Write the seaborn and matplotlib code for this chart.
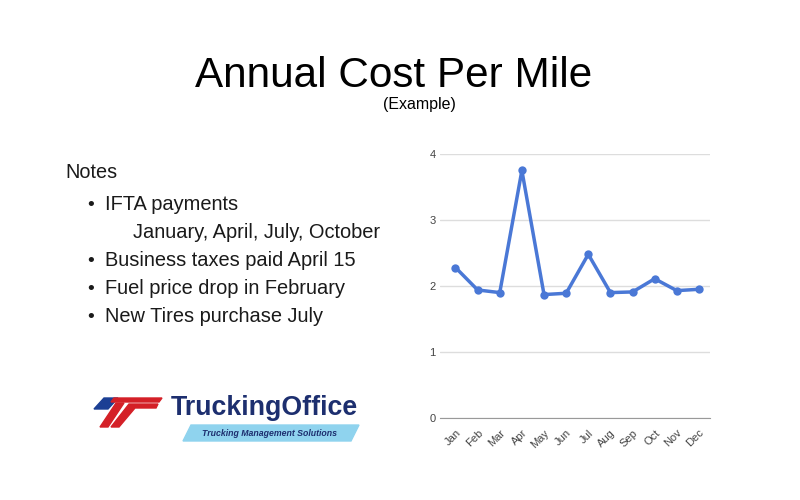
import matplotlib
matplotlib.use('Agg')
import matplotlib.pyplot as plt
import seaborn as sb
import pandas as pd
from matplotlib.patches import Polygon

months = ['Jan', 'Feb', 'Mar', 'Apr', 'May', 'Jun', 'Jul', 'Aug', 'Sep', 'Oct', 'Nov', 'Dec']
cost_per_mile = [2.28, 1.94, 1.90, 3.75, 1.87, 1.89, 2.48, 1.90, 1.91, 2.11, 1.93, 1.95]
y_ticks = [0, 1, 2, 3, 4]

notes_heading = 'Notes'
notes = ['IFTA payments', 'Business taxes paid April 15', 'Fuel price drop in February', 'New Tires purchase July']
ifta_months = 'January, April, July, October'

df = pd.DataFrame({'month': months, 'cost': cost_per_mile})

sb.set_style('white')
plt.rcParams['font.family'] = ['Liberation Sans', 'DejaVu Sans']

fig = plt.figure(figsize=(8, 5), dpi=100)
fig.patch.set_facecolor('white')

# background axes in pixel coordinates for the text and logo
bg = fig.add_axes([0, 0, 1, 1])
bg.set_xlim(0, 800)
bg.set_ylim(500, 0)
bg.axis('off')

bg.text(394, 76, 'Annual Cost Per Mile', ha='center', va='center', fontsize=30.4, color='black')
bg.text(419, 104, '(Example)', ha='center', va='center', fontsize=11.5, color='black')

bg.text(65, 172, notes_heading, ha='left', va='center', fontsize=14.3, color='#1a1a1a')
rows = [204, 260, 288, 316]
for y, line in zip(rows, notes):
    bg.text(91, y + 1, '\u2022', ha='center', va='center', fontsize=14, color='#1a1a1a')
    bg.text(105, y, line, ha='left', va='center', fontsize=14.4, color='#1a1a1a')
bg.text(133, 232, ifta_months, ha='left', va='center', fontsize=14.4, color='#1a1a1a')

# logo
bg.add_patch(Polygon([(94, 409), (104, 398), (118, 398), (108, 409)], closed=True, color='#1c3f94'))
bg.add_patch(Polygon([(114, 398), (162, 398), (159, 402), (111, 402)], closed=True, color='#d42027'))
bg.add_patch(Polygon([(116, 403), (124, 403), (108, 427), (100, 427)], closed=True, color='#d42027'))
bg.add_patch(Polygon([(129, 404), (158, 404), (156, 408), (135, 408), (119, 427), (111, 427)],
                     closed=True, color='#d42027'))
bg.text(171, 408, 'TruckingOffice', ha='left', va='center', fontsize=19.3, fontweight='bold', color='#1d2f6f')
bg.add_patch(Polygon([(191, 425), (359, 425), (351, 441), (183, 441)], closed=True, color='#8fd3ee'))
bg.text(269, 433.5, 'Trucking Management Solutions', ha='center', va='center', fontsize=6.3,
        fontweight='bold', style='italic', color='#1d2f6f')

# line chart
ax = fig.add_axes([0.55, 0.164, 0.3375, 0.528])
sb.lineplot(data=df, x='month', y='cost', ax=ax, color='#4a78d6', linewidth=2.5,
            marker='o', markersize=6, markeredgewidth=0, sort=False)
ax.set_xlim(-0.7, 11.5)
ax.set_ylim(0, 4)
ax.set_yticks(y_ticks)
ax.set_xlabel('')
ax.set_ylabel('')
ax.grid(axis='y', color='#dddddd', linewidth=1)
ax.set_axisbelow(True)
for s in ['top', 'right', 'left']:
    ax.spines[s].set_visible(False)
ax.spines['bottom'].set_color('#999999')
ax.tick_params(axis='y', length=0, labelsize=8, colors='#444444', pad=3)
ax.tick_params(axis='x', length=0, labelsize=8, colors='#444444', pad=7)
plt.setp(ax.get_xticklabels(), rotation=45, ha='right', rotation_mode='anchor')

fig.savefig('out.png', dpi=100, facecolor='white')
